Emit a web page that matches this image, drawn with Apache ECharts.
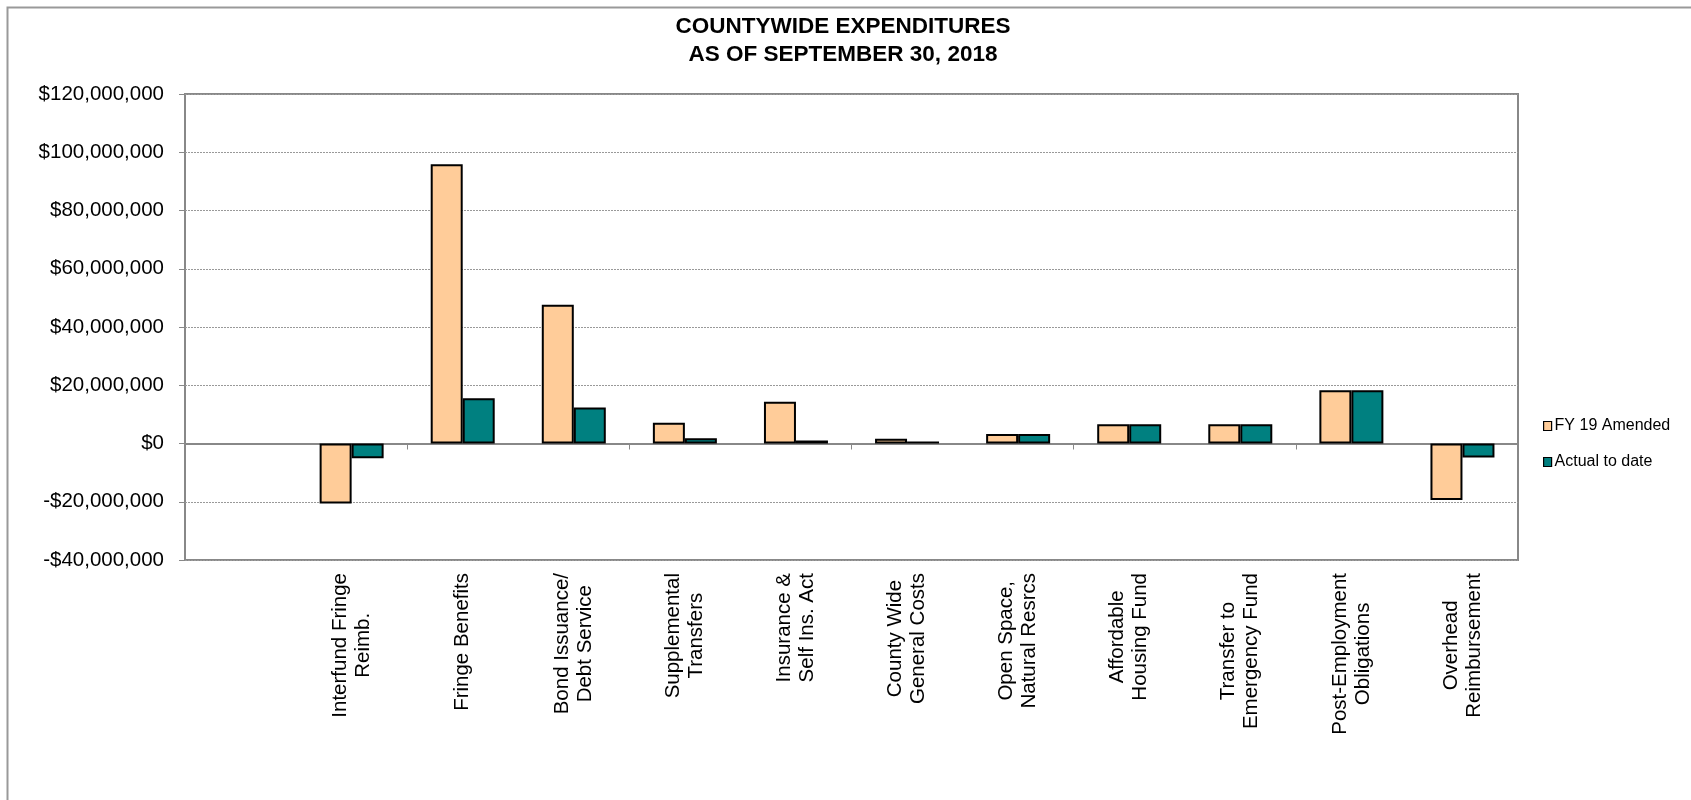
<!DOCTYPE html>
<html>
<head>
<meta charset="utf-8">
<script src="https://cdn.jsdelivr.net/npm/echarts@6/dist/echarts.min.js"></script>
<style>
html,body{margin:0;padding:0;background:#fff;}
#chart{width:1691px;height:800px;}
</style>
</head>
<body>
<div id="chart"></div>
<script>
const categories = [
  '',
  'Interfund Fringe\nReimb.',
  'Fringe Benefits',
  'Bond Issuance/\nDebt Service',
  'Supplemental\nTransfers',
  'Insurance &\nSelf Ins. Act',
  'County Wide\nGeneral Costs',
  'Open Space,\nNatural Resrcs',
  'Affordable\nHousing Fund',
  'Transfer to\nEmergency Fund',
  'Post-Employment\nObligations',
  'Overhead\nReimbursement'
];
const fy19Amended = [null, -20600000, 95900000, 47600000, 7100000, 14300000, 1600000, 3300000, 6600000, 6600000, 18300000, -19400000];
const actualToDate = [null, -5100000, 15500000, 12400000, 1800000, 1000000, 700000, 3300000, 6600000, 6600000, 18300000, -4800000];
const yTicks = { min: -40000000, max: 120000000, interval: 20000000 };

const FONT = "'Liberation Sans', Arial, sans-serif";
const chart = echarts.init(document.getElementById('chart'));

function money(v) {
  const s = Math.abs(v).toLocaleString('en-US');
  return (v < 0 ? '-$' : '$') + s;
}

chart.setOption({
  backgroundColor: '#fff',
  animation: false,
  graphic: [{
    type: 'rect', left: 5, top: 5, silent: true,
    shape: { width: 3000, height: 3000 },
    style: { fill: 'none', stroke: '#999', lineWidth: 2 }
  }],
  title: {
    text: 'COUNTYWIDE EXPENDITURES\nAS OF SEPTEMBER 30, 2018',
    left: 838, top: 8, textAlign: 'center',
    textStyle: { fontFamily: FONT, fontSize: 22.5, fontWeight: 'bold', color: '#000', lineHeight: 28 }
  },
  legend: {
    orient: 'vertical', left: 1543, top: 418,
    itemWidth: 8, itemHeight: 9, itemGap: 20, padding: 0,
    icon: 'rect',
    itemStyle: { borderWidth: 1.2, borderColor: '#000' },
    textStyle: { fontFamily: FONT, fontSize: 16, color: '#000', padding: [0, 0, 0, -2] },
    data: ['FY 19 Amended', 'Actual to date']
  },
  grid: {
    left: 185, right: 173, top: 94, bottom: 240,
    show: true, borderColor: '#888', borderWidth: 2, backgroundColor: 'transparent'
  },
  xAxis: [{
    type: 'category', data: categories, position: 'bottom',
    axisLine: { onZero: true, lineStyle: { color: '#888', width: 2 } },
    axisTick: { show: true, alignWithLabel: false, length: 6, lineStyle: { color: '#888', width: 1 } },
    axisLabel: { show: false },
    splitLine: { show: false }
  }, {
    type: 'category', data: categories, position: 'bottom',
    axisLine: { show: false, onZero: false },
    axisTick: { show: false },
    splitLine: { show: false },
    axisLabel: {
      show: true, interval: 0, rotate: 90, margin: 13,
      formatter: function (v) {
        if (!v) return '';
        return v.split('\n').map(function (l) { return '{a|' + l + '}'; }).join('\n');
      },
      rich: { a: { align: 'center', fontFamily: FONT, fontSize: 20.5, lineHeight: 23, color: '#000' } }
    }
  }],
  yAxis: {
    type: 'value', min: yTicks.min, max: yTicks.max, interval: yTicks.interval,
    axisLine: { show: false },
    axisTick: { show: true, length: 6, lineStyle: { color: '#888' } },
    axisLabel: { margin: 21, fontFamily: FONT, fontSize: 20.5, color: '#000', formatter: money },
    splitLine: { show: true, lineStyle: { color: '#999', type: [2, 1], width: 1 } }
  },
  series: [{
    name: 'FY 19 Amended', type: 'bar', xAxisIndex: 0, data: fy19Amended,
    barWidth: 32, barGap: '0%',
    itemStyle: { color: '#FFCC99', borderColor: '#000', borderWidth: 2 }
  }, {
    name: 'Actual to date', type: 'bar', xAxisIndex: 0, data: actualToDate,
    barWidth: 32, barGap: '0%',
    itemStyle: { color: '#008080', borderColor: '#000', borderWidth: 2 }
  }]
});
</script>
</body>
</html>
